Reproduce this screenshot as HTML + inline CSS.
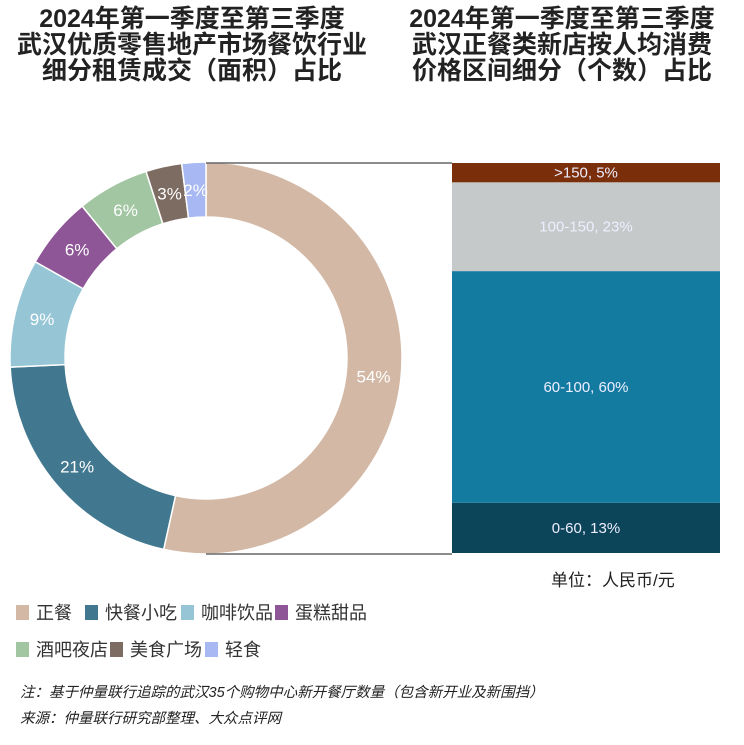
<!DOCTYPE html>
<html><head><meta charset="utf-8"><style>
body{margin:0;width:744px;height:745px;background:#fff;font-family:"Liberation Sans","Noto Sans CJK SC",sans-serif;position:relative;overflow:hidden}
.t{position:absolute;font-weight:bold;font-size:25px;line-height:26px;text-align:center;color:#222;white-space:nowrap}
.lg{position:absolute;font-size:18px;color:#333;display:flex;align-items:center}
.sq{width:13px;height:15px;margin-right:7px}
.n{position:absolute;left:20px;font-size:14.5px;font-style:italic;color:#222}
</style></head><body>
<div class="t" style="left:0;width:384px;top:6px">2024年第一季度至第三季度<br>武汉优质零售地产市场餐饮行业<br>细分租赁成交（面积）占比</div>
<div class="t" style="left:400px;width:324px;top:6px">2024年第一季度至第三季度<br>武汉正餐类新店按人均消费<br>价格区间细分（个数）占比</div>
<svg id="c" width="744" height="745" style="position:absolute;left:0;top:0"></svg>
<div style="position:absolute;left:551px;top:566px;font-size:17px;color:#222">单位：人民币/元</div>
<div class="lg" style="left:16px;top:599px"><div class="sq" style="background:#d3b8a5"></div>正餐</div>
<div class="lg" style="left:85px;top:599px"><div class="sq" style="background:#41788f"></div>快餐小吃</div>
<div class="lg" style="left:181px;top:599px"><div class="sq" style="background:#96c6d6"></div>咖啡饮品</div>
<div class="lg" style="left:275px;top:599px"><div class="sq" style="background:#8e5597"></div>蛋糕甜品</div>
<div class="lg" style="left:16px;top:636px"><div class="sq" style="background:#a1c6a1"></div>酒吧夜店</div>
<div class="lg" style="left:110px;top:636px"><div class="sq" style="background:#7d6c62"></div>美食广场</div>
<div class="lg" style="left:205px;top:636px"><div class="sq" style="background:#a8b8f3"></div>轻食</div>
<div class="n" style="top:681px">注：基于仲量联行追踪的武汉35个购物中心新开餐厅数量（包含新开业及新围挡）</div>
<div class="n" style="top:707px">来源：仲量联行研究部整理、大众点评网</div>
<script>
const pieCats=["正餐","快餐小吃","咖啡饮品","蛋糕甜品","酒吧夜店","美食广场","轻食"];
const pieVals=[54,21,9,6,6,3,2];
const pieColors=["#d3b8a5","#41788f","#96c6d6","#8e5597","#a1c6a1","#7d6c62","#a8b8f3"];
const barCats=["0-60","60-100","100-150",">150"];
const barVals=[13,60,23,5];
const barColors=["#0c4459","#137aa0","#c5c9c9","#7a2e0a"];
const NS="http://www.w3.org/2000/svg";
const svg=document.getElementById('c');
function mk(t,a){const e=document.createElementNS(NS,t);for(const k in a)e.setAttribute(k,a[k]);svg.appendChild(e);return e;}
const cx=206,cy=358,R=196,r=141;
const pTot=pieVals.reduce((a,b)=>a+b,0);
function pt(rad,ang){return [cx+rad*Math.sin(ang),cy-rad*Math.cos(ang)];}
let a0=0;
pieVals.forEach((v,i)=>{
 const a1=a0+v/pTot*2*Math.PI, lg=(a1-a0)>Math.PI?1:0;
 const [x0,y0]=pt(R,a0),[x1,y1]=pt(R,a1),[x2,y2]=pt(r,a1),[x3,y3]=pt(r,a0);
 const p=mk('path',{d:`M${x0},${y0}A${R},${R} 0 ${lg} 1 ${x1},${y1}L${x2},${y2}A${r},${r} 0 ${lg} 0 ${x3},${y3}Z`,fill:pieColors[i],stroke:'#fff','stroke-width':1.5});
 
 
 const am=(a0+a1)/2,[lx,ly]=pt((R+r)/2,am);
 const t=mk('text',{x:lx,y:ly+6,'text-anchor':'middle','font-size':17,fill:'#fff'});
 t.textContent=v+'%';
 
 
 a0=a1;
});
const bx=452,bw=268,bTop=163,bBot=553;
const l1=mk('line',{x1:cx,y1:bTop,x2:bx,y2:bTop,stroke:'#666','stroke-width':1.5});


const l2=mk('line',{x1:cx,y1:bBot+1,x2:bx,y2:bBot+1,stroke:'#666','stroke-width':1.5});


const bTot=barVals.reduce((a,b)=>a+b,0);
let y=bBot;
barVals.forEach((v,i)=>{
 const h=v/bTot*(bBot-bTop);y-=h;
 const rc=mk('rect',{x:bx,y:y,width:bw,height:h,fill:barColors[i]});
 
 
 const t=mk('text',{x:bx+bw/2,y:y+h/2+5,'text-anchor':'middle','font-size':15,fill:'#eef'});
 t.textContent=barCats[i]+', '+v+'%';
 
 
});
</script>
</body></html>
